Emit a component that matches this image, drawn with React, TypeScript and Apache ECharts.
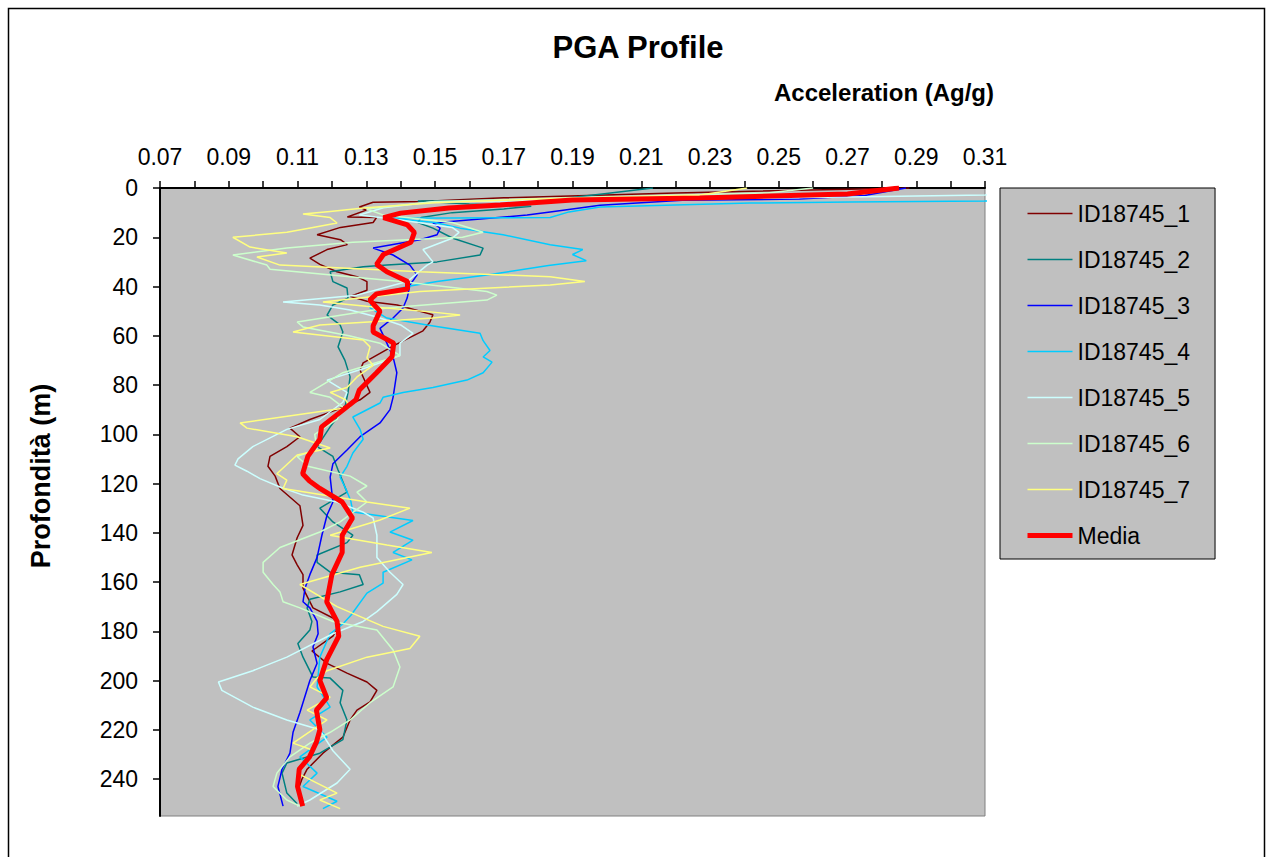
import React, { useEffect, useRef } from "react";
import * as echarts from "echarts";

// [depth (m), acceleration (Ag/g)]
const ID18745_1: number[][] = [
  [0, 0.288], [2, 0.22], [4, 0.17], [5.5, 0.146], [5.8, 0.132], [7.7, 0.128], [9, 0.13], [11.8, 0.1245], [12, 0.133],
  [14, 0.132], [16, 0.1225], [19, 0.1157], [21, 0.1225], [23, 0.1245], [25, 0.1186], [28.5, 0.1136], [31, 0.1165],
  [34, 0.1215], [36, 0.1273], [38, 0.1302], [41.5, 0.1302], [44, 0.1253], [46, 0.1302], [47.5, 0.139], [51.5, 0.1494],
  [54.5, 0.1485], [58, 0.1465], [64, 0.138], [71, 0.1291], [74, 0.1282], [83, 0.1311], [86, 0.1282], [90, 0.1215],
  [94, 0.1136], [97.5, 0.1078], [101, 0.1107], [105, 0.1069], [109, 0.102], [113, 0.1014], [117, 0.1035], [122, 0.1049],
  [129, 0.1107], [137, 0.1116], [142, 0.1099], [149, 0.1084], [153, 0.1099], [157, 0.1116], [162.5, 0.1116],
  [170.5, 0.1145], [174.6, 0.1203], [177, 0.1224], [182, 0.1203], [188, 0.1142], [193, 0.1186], [197, 0.1244],
  [200.6, 0.1302], [204, 0.1331], [208.7, 0.1311], [212, 0.1273], [216, 0.1253], [223, 0.1232], [229.5, 0.1174],
  [236, 0.1128], [240, 0.1113], [245, 0.11],
];

const ID18745_2: number[][] = [
  [0, 0.2134], [2.5, 0.198], [4.9, 0.1835], [5.3, 0.145], [6.5, 0.16], [7.4, 0.178], [8.5, 0.17], [10, 0.155],
  [12, 0.146], [14, 0.145], [16.3, 0.1494], [20.4, 0.1552], [24.4, 0.164], [27.2, 0.1631], [30, 0.1506], [31.3, 0.136],
  [32, 0.1291], [34, 0.1195], [38, 0.1203], [40.6, 0.1244], [44.7, 0.1247], [47.5, 0.1203], [51.6, 0.1186],
  [55.6, 0.1224], [58.5, 0.1232], [64.5, 0.1218], [70, 0.1238], [76.7, 0.1253], [83, 0.1247], [89, 0.1238],
  [97, 0.1195], [105, 0.1157], [109, 0.1203], [114.5, 0.1218], [116.5, 0.1224], [123.5, 0.1244], [130, 0.1165],
  [135.6, 0.1203], [141, 0.1261], [144, 0.1244], [149, 0.1157], [152, 0.1157], [156, 0.1195], [157, 0.128],
  [161, 0.1291], [164, 0.1224], [167, 0.1136], [170.5, 0.1128], [176, 0.1142], [179.5, 0.1136], [185, 0.1101],
  [190.5, 0.1116], [198.6, 0.1145], [199, 0.1195], [204, 0.1232], [209, 0.1224], [216, 0.1244], [224, 0.1232],
  [229.5, 0.1165], [233.5, 0.1069], [237.6, 0.1055], [245.7, 0.1069], [250, 0.1099],
];

const ID18745_3: number[][] = [
  [0, 0.287], [3, 0.275], [4.5, 0.256], [5, 0.222], [7, 0.198], [9.7, 0.1835], [11, 0.1768], [14.2, 0.1494],
  [16.3, 0.1515], [19, 0.1506], [21, 0.1456], [24.4, 0.132], [27.2, 0.1378], [31.3, 0.1427], [35.3, 0.1448],
  [39.4, 0.1427], [44.7, 0.1419], [48.7, 0.1407], [52.8, 0.1378], [57, 0.134], [63, 0.136], [68.6, 0.1378],
  [75, 0.1389], [85, 0.1378], [90, 0.1369], [95.4, 0.134], [101, 0.1282], [106.4, 0.1244], [112, 0.1203],
  [117.4, 0.1195], [127.5, 0.1203], [132.8, 0.1186], [141, 0.1171], [150, 0.1157], [157, 0.1136], [162.4, 0.1122],
  [168, 0.1116], [170.5, 0.1136], [176, 0.1157], [181, 0.116], [186.4, 0.1145], [193, 0.1157], [200, 0.1136],
  [213, 0.1107], [221, 0.1087], [229.5, 0.1078], [236, 0.1055], [243, 0.1043], [251, 0.1058],
];

const ID18745_4: number[][] = [
  [0, 0.36], [4, 0.33], [5.3, 0.31], [5.7, 0.2707], [6.1, 0.2416], [7.7, 0.198], [9.7, 0.189], [12, 0.1835],
  [12.3, 0.137], [14, 0.15], [16.3, 0.1573], [19, 0.1698], [23, 0.1835], [25, 0.193], [27, 0.19], [29.5, 0.194],
  [31.5, 0.183], [35.3, 0.1651], [38, 0.1506], [40, 0.1419], [43.5, 0.132], [48.7, 0.1311], [52.8, 0.136],
  [55.6, 0.1477], [59, 0.1631], [62, 0.164], [66, 0.166], [68.6, 0.164], [70.7, 0.1666], [75, 0.164], [78, 0.1593],
  [81, 0.1494], [83, 0.1407], [85, 0.1349], [87.3, 0.134], [93, 0.1261], [98, 0.1282], [102, 0.1291], [107.6, 0.1261],
  [113, 0.1244], [117.4, 0.1224], [122, 0.124], [127, 0.1255], [131.6, 0.1261], [135, 0.1436], [139.7, 0.1369],
  [143, 0.1436], [148, 0.1378], [151, 0.1433], [156, 0.1349], [160.4, 0.1349], [164.5, 0.1302], [173.4, 0.1256],
  [177, 0.1232], [181, 0.1195], [190.5, 0.1165], [202.6, 0.1157], [210.8, 0.1195], [216, 0.1136], [223, 0.1186],
  [231, 0.1107], [237.6, 0.1157], [243, 0.1116], [249, 0.1215], [252, 0.1174],
];

const ID18745_5: number[][] = [
  [0, 0.36], [2.8, 0.31], [3.7, 0.27], [4.7, 0.2], [5.7, 0.149], [8, 0.135], [11, 0.128], [13, 0.14], [16, 0.155],
  [18, 0.157], [20.4, 0.155], [25, 0.1465], [30, 0.1494], [31.3, 0.1477], [38, 0.1419], [43.5, 0.1273],
  [46.3, 0.1058], [47.5, 0.1165], [49.5, 0.1253], [52.4, 0.1331], [55.6, 0.14], [59, 0.1436], [63, 0.1398],
  [68, 0.1398], [73, 0.13], [78, 0.1186], [83, 0.1244], [87, 0.1232], [94, 0.1165], [98, 0.1069], [105, 0.097],
  [110, 0.0927], [112.5, 0.0918], [115, 0.0953], [118, 0.0991], [121.4, 0.1049], [124.7, 0.1116], [127.5, 0.1215],
  [131.6, 0.1291], [134, 0.132], [141, 0.1331], [150, 0.1331], [156, 0.1369], [161, 0.1407], [165, 0.1389],
  [172, 0.1331], [176, 0.1291], [181, 0.1203], [190.5, 0.1069], [196, 0.097], [200.6, 0.087], [204, 0.088],
  [210.8, 0.097], [216, 0.1069], [220, 0.1165], [228.5, 0.1203], [236, 0.1253], [241.6, 0.1215], [248.5, 0.1136],
  [251, 0.1099],
];

const ID18745_6: number[][] = [
  [0, 0.26], [2, 0.2466], [4, 0.19], [5.5, 0.15], [7, 0.14], [8.5, 0.1302], [11, 0.135], [14, 0.155], [18, 0.164],
  [20, 0.158], [22, 0.1261], [24.4, 0.1069], [27.2, 0.0912], [31.3, 0.1011], [33, 0.102], [38, 0.14], [42, 0.1651],
  [43.5, 0.168], [45.5, 0.1651], [48.7, 0.136], [54.4, 0.1099], [56.4, 0.1116], [60, 0.125], [63, 0.134], [68, 0.1398],
  [75, 0.1232], [83, 0.1136], [85, 0.1195], [89, 0.1232], [94, 0.1215], [100, 0.115], [106, 0.1157], [109, 0.1099],
  [113, 0.113], [117, 0.1253], [121, 0.1302], [123.5, 0.1273], [127.5, 0.1302], [135.6, 0.1224], [139.7, 0.1165],
  [146, 0.1049], [152, 0.1], [156, 0.1], [161, 0.1029], [164, 0.1049], [168, 0.1058], [170.5, 0.1107], [176, 0.1203],
  [179.5, 0.1331], [187.6, 0.1378], [194.5, 0.1398], [202.6, 0.1378], [209, 0.1311], [216, 0.1253], [221, 0.1195],
  [225.4, 0.1136], [231, 0.1078], [237.6, 0.104], [243, 0.1029], [248.5, 0.1069], [251, 0.1107],
];

const ID18745_7: number[][] = [
  [0, 0.2408], [2.8, 0.2271], [4.5, 0.18], [6, 0.15], [8, 0.13], [9.5, 0.1195], [10.6, 0.1116], [12, 0.1195],
  [14.2, 0.1215], [16, 0.1145], [18, 0.1069], [20, 0.0912], [24, 0.0962], [26.4, 0.1069], [28, 0.0982],
  [31.3, 0.1049], [34, 0.1456], [36, 0.1835], [38, 0.1936], [39.4, 0.1835], [42, 0.1456], [46.3, 0.1174], [48, 0.13],
  [50.4, 0.1494], [51.6, 0.1573], [52.8, 0.1494], [55.6, 0.1165], [58.5, 0.1087], [61.7, 0.1291], [64.5, 0.1311],
  [69, 0.1302], [72, 0.132], [76.7, 0.1273], [81, 0.1244], [83, 0.1195], [86, 0.124], [89, 0.1253], [95.4, 0.0933],
  [97.5, 0.0953], [101, 0.1099], [105.6, 0.1195], [108.4, 0.1099], [116, 0.104], [118.6, 0.1069], [122, 0.1058],
  [127.5, 0.1302], [130, 0.1427], [134.8, 0.134], [141, 0.1195], [145, 0.136], [148, 0.1491], [154, 0.1282],
  [161, 0.1107], [170, 0.1215], [178, 0.1349], [182, 0.1456], [187, 0.1427], [190.5, 0.1302], [196, 0.1186],
  [199, 0.1157], [202.6, 0.1136], [206.7, 0.1195], [212, 0.1128], [216, 0.1186], [225.4, 0.1087], [228.3, 0.1145],
  [237.6, 0.1099], [245.7, 0.1215], [248.5, 0.1165], [252, 0.1224],
];

const Media: number[][] = [
  [0, 0.285], [2.4, 0.27], [4.1, 0.227], [4.9, 0.19], [6.9, 0.169], [8.1, 0.154], [10.2, 0.14], [12, 0.135],
  [15, 0.142], [18, 0.144], [22, 0.143], [27, 0.135], [31, 0.133], [34, 0.136], [38, 0.142], [41, 0.142], [43, 0.133],
  [45.5, 0.131], [50, 0.134], [56, 0.132], [58.5, 0.132], [63, 0.138], [68.5, 0.1375], [75, 0.133], [82, 0.128],
  [86, 0.127], [91.5, 0.122], [97, 0.117], [102, 0.1165], [109, 0.113], [116, 0.1115], [119, 0.1135], [122, 0.1165],
  [127.5, 0.123], [134, 0.126], [141, 0.123], [148, 0.123], [157, 0.12], [168, 0.1185], [176, 0.1215], [182, 0.122],
  [191.5, 0.1185], [200, 0.1165], [207, 0.1185], [212, 0.1155], [220, 0.1165], [225, 0.1155], [231, 0.1135],
  [236, 0.1105], [243, 0.11], [251, 0.1115],
];

const seriesNames = ["ID18745_1", "ID18745_2", "ID18745_3", "ID18745_4", "ID18745_5", "ID18745_6", "ID18745_7", "Media"];
const seriesData = [ID18745_1, ID18745_2, ID18745_3, ID18745_4, ID18745_5, ID18745_6, ID18745_7, Media];
const seriesColors = ["#800000", "#008080", "#0000FF", "#00CCFF", "#CCFFFF", "#CCFFCC", "#FFFF80", "#FF0000"];
const depthTicks = [0, 20, 40, 60, 80, 100, 120, 140, 160, 180, 200, 220, 240];

const FONT = "'Liberation Sans', Arial, sans-serif";

export default function App() {
  const ref = useRef<HTMLDivElement>(null);
  useEffect(() => {
    if (!ref.current) return;
    const chart = echarts.init(ref.current, null, { renderer: "svg" });
    chart.setOption({
      animation: false,
      backgroundColor: "#FFFFFF",
      grid: {
        left: 160, top: 188, right: 288, bottom: 41, show: true,
        backgroundColor: "#C0C0C0", borderColor: "#808080", borderWidth: 1,
      },
      xAxis: {
        type: "value", position: "top", min: 0.07, max: 0.31, interval: 0.01,
        axisLine: { show: true, onZero: false, lineStyle: { color: "#000", width: 2 } },
        axisTick: { show: true, length: 7, lineStyle: { color: "#000", width: 1.5 } },
        splitLine: { show: false },
        axisLabel: {
          color: "#000", fontSize: 23, fontFamily: FONT, margin: 20,
          formatter: (v: number) => (Math.round(v * 100) % 2 === 1 ? v.toFixed(2) : ""),
        },
      },
      yAxis: {
        type: "value", inverse: true, min: 0, max: 255, interval: 20,
        axisLine: { show: true, onZero: false, lineStyle: { color: "#000", width: 2 } },
        axisTick: { show: true, length: 7, customValues: depthTicks, lineStyle: { color: "#000", width: 1.5 } },
        splitLine: { show: false },
        axisLabel: { color: "#000", fontSize: 23, fontFamily: FONT, margin: 22, customValues: depthTicks },
      },
      legend: {
        orient: "vertical", left: 1000, top: 188,
        itemWidth: 45, itemHeight: 23, itemGap: 23,
        padding: [14, 25, 12, 25],
        backgroundColor: "#C0C0C0", borderColor: "#000", borderWidth: 1,
        itemStyle: { color: "rgba(0,0,0,0)", borderWidth: 0, opacity: 0 },
        textStyle: { color: "#000", fontSize: 23, fontFamily: FONT },
        data: seriesNames.map((n, i) => (i === 7 ? { name: n, lineStyle: { width: 5 } } : { name: n, lineStyle: { width: 1.5 } })),
      },
      graphic: [
        { type: "rect", shape: { x: 8.5, y: 8.5, width: 1256, height: 900 }, style: { fill: "none", stroke: "#000", lineWidth: 1.5 }, silent: true },
        { type: "text", x: 638, y: 47, style: { text: "PGA Profile", font: `bold 31px ${FONT}`, fill: "#000", textAlign: "center", textVerticalAlign: "middle" } },
        { type: "text", x: 884, y: 92, style: { text: "Acceleration (Ag/g)", font: `bold 24px ${FONT}`, fill: "#000", textAlign: "center", textVerticalAlign: "middle" } },
        { type: "text", x: 41, y: 476, rotation: Math.PI / 2, style: { text: "Profondità (m)", font: `bold 27px ${FONT}`, fill: "#000", textAlign: "center", textVerticalAlign: "middle" } },
      ],
      series: seriesData.map((d, i) => ({
        name: seriesNames[i],
        type: "line",
        data: d.map((p) => [p[1], p[0]]),
        symbol: "none",
        clip: true,
        color: seriesColors[i],
        lineStyle: { color: seriesColors[i], width: i === 7 ? 5 : 1.5 },
        z: i === 7 ? 5 : 2,
      })),
    });
    return () => chart.dispose();
  }, []);
  return <div ref={ref} style={{ position: "fixed", left: 0, top: 0, width: 1273, height: 857 }} />;
}
